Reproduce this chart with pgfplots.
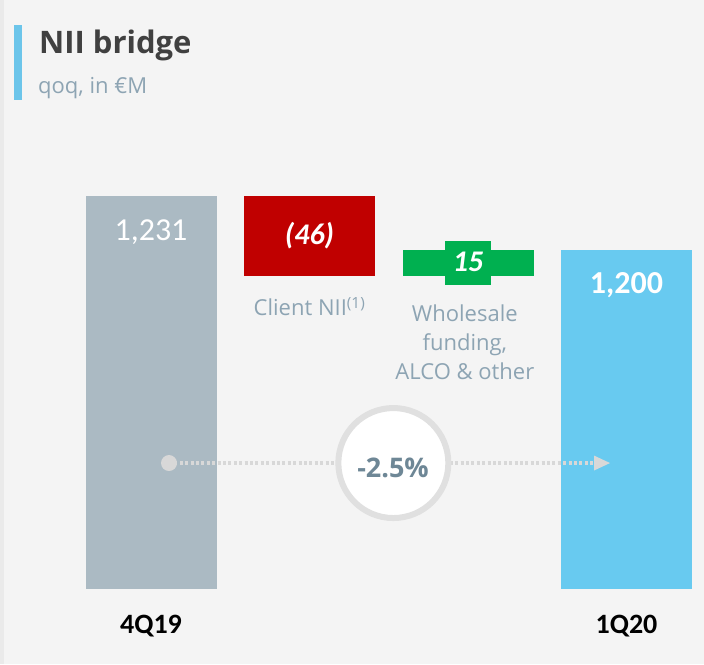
\documentclass[border=0pt]{standalone}
\usepackage{fontspec}
\setmainfont{Open Sans}
\newfontfamily\carlito{Carlito}
\usepackage{pgfplots}
\pgfplotsset{compat=1.18}
\definecolor{bgc}{HTML}{F4F4F4}
\definecolor{edgec}{HTML}{EAEAEA}
\definecolor{accent}{HTML}{6CC5EA}
\definecolor{titlec}{HTML}{404040}
\definecolor{subc}{HTML}{8DA4B3}
\definecolor{grayb}{HTML}{ABBAC3}
\definecolor{redb}{HTML}{C00000}
\definecolor{greenb}{HTML}{00B050}
\definecolor{blueb}{HTML}{68CAF0}
\definecolor{dotc}{HTML}{D8D8D8}
\definecolor{circc}{HTML}{E0E0E0}
\definecolor{pctc}{HTML}{6E8796}
\begin{document}
\begin{tikzpicture}[x=1pt,y=1pt]
\fill[bgc] (0,0) rectangle (704,664);
\fill[edgec] (0,0) rectangle (4,664);
\useasboundingbox (0,0) rectangle (704,664);
\fill[accent] (14,564) rectangle (22,639);
\node[anchor=base west, inner sep=0, text=titlec, font=\fontsize{31}{36}\selectfont\bfseries] at (39,610) {NII bridge};
\node[anchor=base west, inner sep=0, text=subc, font=\fontsize{22}{26}\selectfont] at (38,570) {qoq, in €M};
\begin{axis}[
  at={(79.675pt,75.5pt)}, anchor=south west,
  scale only axis, width=618.15pt, height=511.5pt,
  xmin=-0.45, xmax=3.45, ymin=1004, ymax=1300,
  enlargelimits=false,
  ybar stacked, bar width=131pt,
  axis line style={draw=none}, tick style={draw=none},
  ytick=\empty, xtick={0,3}, xticklabels={4Q19,1Q20},
  xticklabel style={anchor=base, yshift=-45.5pt, font=\carlito\bfseries\fontsize{28}{32}\selectfont, text=black},
  clip=true]
\addplot[draw=none, fill=none] coordinates {(0,0) (1,1185) (2,1185) (3,0)};
\addplot[draw=none, fill=grayb] coordinates {(0,1231) (1,0) (2,0) (3,0)};
\addplot[draw=none, fill=redb] coordinates {(0,0) (1,46) (2,0) (3,0)};
\addplot[draw=none, fill=greenb] coordinates {(0,0) (1,0) (2,15) (3,0)};
\addplot[draw=none, fill=blueb] coordinates {(0,0) (1,0) (2,0) (3,1200)};
\coordinate (lA) at (axis cs:0,1205.3);
\coordinate (lB) at (axis cs:1,1203.3);
\coordinate (gB) at (axis cs:2,1192.4);
\coordinate (lC) at (axis cs:2,1187.3);
\coordinate (lD) at (axis cs:3,1174.8);
\coordinate (dB) at (axis cs:1,1161.7);
\coordinate (dC1) at (axis cs:1.98,1158.4);
\coordinate (dC2) at (axis cs:1.98,1142.0);
\coordinate (dC3) at (axis cs:1.98,1125.2);
\coordinate (p0) at (axis cs:0.1136,1076.6);
\coordinate (p1) at (axis cs:2.80,1076.6);
\coordinate (p2) at (axis cs:2.896,1076.6);
\coordinate (pc) at (axis cs:1.529,1076.6);
\coordinate (pt) at (axis cs:1.527,1068.4);
\end{axis}
% bar labels
\node[anchor=base, text=white, font=\carlito\fontsize{32}{36}\selectfont] at (lA) {1,231};
\node[anchor=base, text=white, font=\carlito\bfseries\itshape\fontsize{30}{34}\selectfont] at (lB) {(46)};
\node[fill=greenb, minimum width=46pt, minimum height=43.7pt, inner sep=0] at (gB) {};
\node[anchor=base, text=white, font=\carlito\bfseries\itshape\fontsize{30}{34}\selectfont] at (lC) {15};
\node[anchor=base, text=white, font=\carlito\bfseries\fontsize{32}{36}\selectfont] at (lD) {1,200};
% category descriptions
\node[anchor=base, text=subc, font=\fontsize{22}{26}\selectfont] at (dB) {Client NII\textsuperscript{(1)}};
\node[anchor=base, text=subc, font=\fontsize{22}{26}\selectfont] at (dC1) {Wholesale};
\node[anchor=base, text=subc, font=\fontsize{22}{26}\selectfont] at (dC2) {funding,};
\node[anchor=base, text=subc, font=\fontsize{22}{26}\selectfont] at (dC3) {ALCO \& other};
% change indicator
\draw[dotc, line width=3.2pt, dash pattern=on 3pt off 2.4pt] (p0) -- (p1);
\fill[dotc] (p0) circle[radius=8pt];
\fill[dotc] (p2) -- ++(-16pt,7.5pt) -- ++(0pt,-15pt) -- cycle;
\draw[circc, line width=6pt, fill=white] (pc) circle[radius=55pt];
\node[anchor=base, text=pctc, font=\bfseries\fontsize{27}{31}\selectfont] at (pt) {-2.5\%};
\end{tikzpicture}
\end{document}
